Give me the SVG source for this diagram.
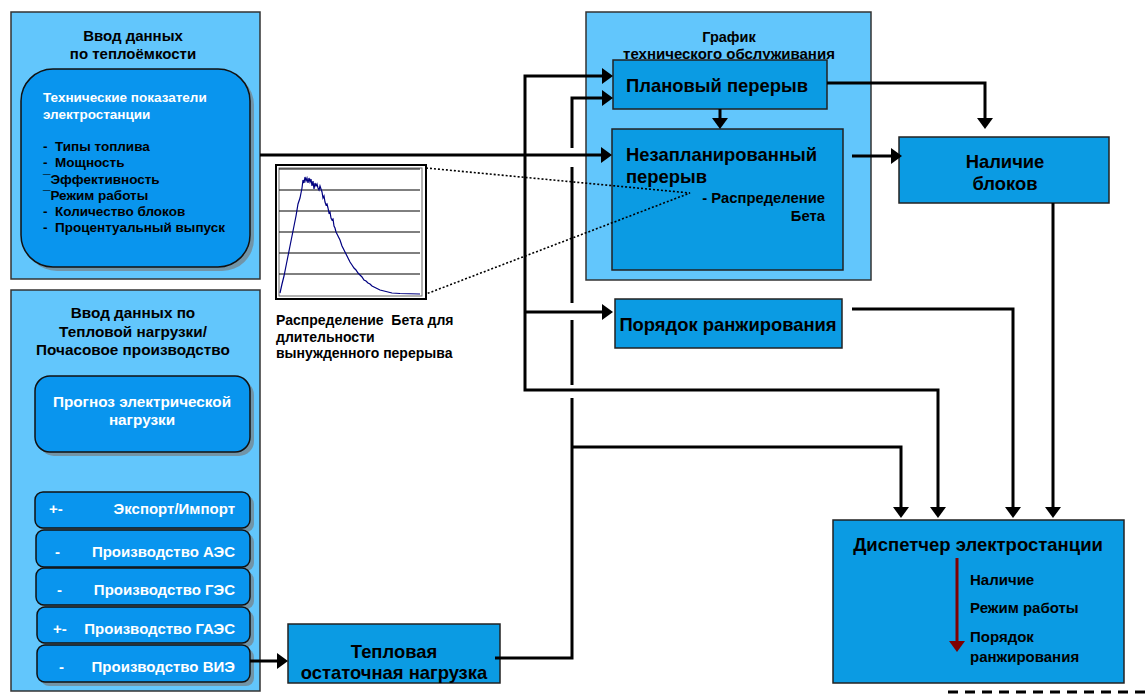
<svg xmlns="http://www.w3.org/2000/svg" width="1148" height="695" viewBox="0 0 1148 695">
<defs>
<style>
.outer{fill:#62C6FC;stroke:#333;stroke-width:1.5}
.node{fill:#0B9BE3;stroke:#222;stroke-width:1.5}
.rnode{fill:#0995EE;stroke:#111;stroke-width:1.5}
.shadow{fill:#7a7a7a;opacity:.65}
.t{font-family:"Liberation Sans",Arial,sans-serif;font-weight:bold;fill:#000}
.w{fill:#fff}
.c{fill:none;stroke:#000;stroke-width:3;stroke-linejoin:miter}
.dot{fill:none;stroke:#000;stroke-width:1.6;stroke-dasharray:2 2}
.grid{stroke:#000;stroke-width:1}
</style>
<marker id="ah" markerUnits="userSpaceOnUse" markerWidth="12" markerHeight="16" refX="7" refY="8" orient="auto"><path d="M0,0 L11,8 L0,16 z" fill="#000"/></marker>
<marker id="ahr" markerUnits="userSpaceOnUse" markerWidth="12" markerHeight="16" refX="7" refY="8" orient="auto"><path d="M0,0 L11,8 L0,16 z" fill="#7F0000"/></marker>
</defs>
<rect width="1148" height="695" fill="#fff"/>

<g id="input-heat-capacity">
<rect class="outer" x="11" y="12" width="249" height="267"/>
<text class="t" font-size="15" text-anchor="middle" x="133" y="41">Ввод данных</text>
<text class="t" font-size="15" text-anchor="middle" x="133" y="59">по теплоёмкости</text>
<rect class="shadow" x="25" y="73" width="229" height="198" rx="32"/>
<rect class="rnode" x="21" y="69" width="229" height="198" rx="32"/>
<text class="t w" font-size="13.5" x="43" y="102">Технические показатели</text>
<text class="t w" font-size="13.5" x="43" y="119">электростанции</text>
<text class="t" font-size="13.5" x="43" y="151" xml:space="preserve">-  Типы топлива</text>
<text class="t" font-size="13.5" x="43" y="167" xml:space="preserve">-  Мощность</text>
<text class="t" font-size="13.5" x="43" y="184">¯Эффективность</text>
<text class="t" font-size="13.5" x="43" y="200">¯Режим работы</text>
<text class="t" font-size="13.5" x="43" y="216" xml:space="preserve">-  Количество блоков</text>
<text class="t" font-size="13.5" x="43" y="232" xml:space="preserve">-  Процентуальный выпуск</text>
</g>

<g id="input-heat-load">
<rect class="outer" x="11" y="290" width="249" height="401"/>
<text class="t" font-size="15.3" text-anchor="middle" x="133" y="318">Ввод данных по</text>
<text class="t" font-size="15.3" text-anchor="middle" x="133" y="337">Тепловой нагрузки/</text>
<text class="t" font-size="15.3" text-anchor="middle" x="133" y="355">Почасовое производство</text>
</g>

<g id="forecast">
<rect class="shadow" x="39" y="380" width="215" height="76" rx="15"/>
<rect class="rnode" x="35" y="376" width="215" height="76" rx="15"/>
<text class="t w" font-size="15.3" text-anchor="middle" x="142" y="407">Прогноз электрической</text>
<text class="t w" font-size="15.3" text-anchor="middle" x="142" y="425">нагрузки</text>
</g>

<g id="export-import">
<rect class="shadow" x="39" y="496" width="215" height="36" rx="8"/>
<rect class="rnode" x="35" y="492" width="215" height="36" rx="8"/>
<text class="t w" font-size="15" x="49" y="514">+-</text>
<text class="t w" font-size="15" text-anchor="end" x="235" y="514">Экспорт/Импорт</text>
</g>
<g id="prod-aes">
<rect class="shadow" x="40" y="534" width="214" height="37" rx="8"/>
<rect class="rnode" x="36" y="530" width="214" height="37" rx="8"/>
<text class="t w" font-size="15" x="55" y="557">-</text>
<text class="t w" font-size="15" text-anchor="end" x="235" y="557">Производство АЭС</text>
</g>
<g id="prod-ges">
<rect class="shadow" x="40" y="572" width="214" height="37" rx="8"/>
<rect class="rnode" x="36" y="568" width="214" height="37" rx="8"/>
<text class="t w" font-size="15" x="57" y="595">-</text>
<text class="t w" font-size="15" text-anchor="end" x="235" y="595">Производство ГЭС</text>
</g>
<g id="prod-gaes">
<rect class="shadow" x="41" y="611" width="213" height="36" rx="8"/>
<rect class="rnode" x="37" y="607" width="213" height="36" rx="8"/>
<text class="t w" font-size="15" x="53" y="634">+-</text>
<text class="t w" font-size="15" text-anchor="end" x="235" y="634">Производство ГАЭС</text>
</g>
<g id="prod-vie">
<rect class="shadow" x="41" y="649" width="213" height="37" rx="8"/>
<rect class="rnode" x="37" y="645" width="213" height="37" rx="8"/>
<text class="t w" font-size="15" x="59" y="672">-</text>
<text class="t w" font-size="15" text-anchor="end" x="235" y="672">Производство ВИЭ</text>
</g>

<g id="beta-chart">
<rect x="276" y="165" width="150" height="134" fill="#fff" stroke="#000" stroke-width="2"/>
<rect x="279" y="168" width="143" height="128" fill="none" stroke="#666" stroke-width="1"/>
<line class="grid" x1="279" y1="169" x2="420" y2="169"/>
<line class="grid" x1="279" y1="190" x2="420" y2="190"/>
<line class="grid" x1="279" y1="211" x2="420" y2="211"/>
<line class="grid" x1="279" y1="232" x2="420" y2="232"/>
<line class="grid" x1="279" y1="253" x2="420" y2="253"/>
<line class="grid" x1="279" y1="274" x2="420" y2="274"/>
<path fill="none" stroke="#000080" stroke-width="1.2" d="M280,293 L282,284 L284,276 L286,266 L288,256 L290,246 L292,236 L294,226 L296,216 L298,204 L300,198 L301,193 L302,188 L303,180 L304,183 L305,177 L306,181 L307,178 L308,183 L309,178 L310,182 L311,179 L312,186 L313,181 L314,189 L315,183 L316,186 L317,184 L318,188 L319,190 L320,186 L321,189 L322,192 L323,198 L324,196 L325,202 L326,205 L327,204 L328,208 L329,213 L330,212 L331,218 L332,220 L333,219 L334,226 L335,228 L336,232 L337,234 L338,236 L340,240 L342,246 L344,250 L346,254 L348,258 L350,262 L352,265 L354,268 L356,270 L358,273 L360,275 L362,277 L364,280 L366,281 L368,283 L370,284 L372,286 L374,287 L376,288 L378,289 L380,290 L384,291 L388,292 L392,293 L400,293.5 L420,294"/>
<text class="t" font-size="14" x="276" y="325" xml:space="preserve">Распределение  Бета для</text>
<text class="t" font-size="14" x="276" y="342">длительности</text>
<text class="t" font-size="14" x="276" y="358">вынужденного перерыва</text>
</g>

<g id="maintenance-schedule">
<rect class="outer" x="586" y="12" width="285" height="268"/>
<text class="t" font-size="14.5" text-anchor="middle" x="729" y="42">График</text>
<text class="t" font-size="15" text-anchor="middle" x="729" y="59">технического обслуживания</text>
</g>

<g id="planned-outage">
<rect class="node" x="613" y="60" width="214" height="49"/>
<text class="t" font-size="18.4" x="626" y="92">Плановый перерыв</text>
</g>

<g id="unplanned-outage">
<rect class="node" x="612" y="129" width="231" height="141"/>
<text class="t" font-size="18.4" x="626" y="161">Незапланированный</text>
<text class="t" font-size="18.4" x="626" y="183">перерыв</text>
<text class="t" font-size="14.8" text-anchor="end" x="825" y="203">- Распределение</text>
<text class="t" font-size="14.8" text-anchor="end" x="825" y="221">Бета</text>
</g>

<g id="unit-availability">
<rect class="node" x="899" y="137" width="210" height="66"/>
<text class="t" font-size="18.4" text-anchor="middle" x="1005" y="168">Наличие</text>
<text class="t" font-size="18.4" text-anchor="middle" x="1005" y="190">блоков</text>
</g>

<g id="ranking-order">
<rect class="node" x="615" y="299" width="227" height="49"/>
<text class="t" font-size="18.4" text-anchor="middle" x="728" y="331">Порядок ранжирования</text>
</g>

<g id="residual-heat-load">
<rect class="node" x="288" y="624" width="212" height="59"/>
<text class="t" font-size="18.4" text-anchor="middle" x="394" y="658">Тепловая</text>
<text class="t" font-size="18.4" text-anchor="middle" x="394" y="679">остаточная нагрузка</text>
</g>

<g id="dispatcher">
<rect class="node" x="833" y="520" width="291" height="163"/>
<text class="t" font-size="18.5" text-anchor="middle" x="978" y="551">Диспетчер электростанции</text>
<text class="t" font-size="15" x="970" y="585">Наличие</text>
<text class="t" font-size="15" x="970" y="613">Режим работы</text>
<text class="t" font-size="15" x="970" y="642">Порядок</text>
<text class="t" font-size="15" x="970" y="662">ранжирования</text>
<path d="M957,558 V648" fill="none" stroke="#7F0000" stroke-width="3" marker-end="url(#ahr)"/>
</g>

<g id="connectors">
<path class="dot" d="M426,168 L690,193 L426,294"/>
<path class="c" d="M260,155 H608" marker-end="url(#ah)"/>
<path class="c" d="M525,155 V76 H609" marker-end="url(#ah)"/>
<path class="c" d="M525,155 V390 H938 V514" marker-end="url(#ah)"/>
<path class="c" d="M525,312 H609" marker-end="url(#ah)"/>
<path class="c" d="M495,658 H572 V398"/>
<path class="c" d="M572,385 V320"/>
<path class="c" d="M572,303 V167"/>
<path class="c" d="M572,148 V98 H609" marker-end="url(#ah)"/>
<path class="c" d="M572,447 H901 V514" marker-end="url(#ah)"/>
<path class="c" d="M720,109 V125" marker-end="url(#ah)"/>
<path class="c" d="M827,83 H985 V125" marker-end="url(#ah)"/>
<path class="c" d="M852,156 H898" marker-end="url(#ah)"/>
<path class="c" d="M1053,203 V514" marker-end="url(#ah)"/>
<path class="c" d="M852,309 H1013 V514" marker-end="url(#ah)"/>
<path class="c" d="M250,661 H284" marker-end="url(#ah)"/>
<path class="c" d="M948,692 H1148" stroke-dasharray="10 7"/>
</g>
</svg>
